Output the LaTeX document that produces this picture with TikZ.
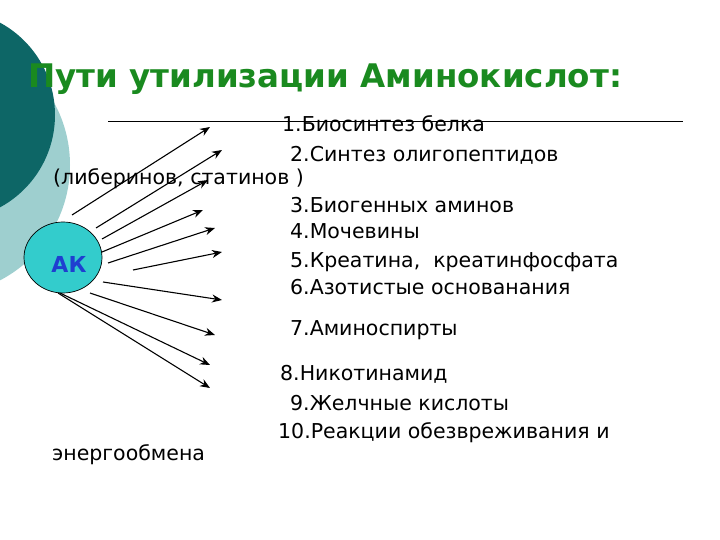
\documentclass[tikz,border=0pt]{standalone}
\usepackage{fontspec}
\setmainfont{DejaVu Sans}
\usetikzlibrary{arrows.meta,shapes.geometric}
\definecolor{darkteal}{HTML}{0D6666}
\definecolor{lightteal}{HTML}{9ECFCF}
\definecolor{titlegreen}{HTML}{1A8A1F}
\definecolor{akfill}{HTML}{33CCCC}
\definecolor{akblue}{HTML}{1F3FD0}
\begin{document}
\begin{tikzpicture}[x=1pt,y=-1pt,
  item/.style={anchor=base west, inner sep=0pt, font=\fontsize{20.5}{20.5}\selectfont},
  arr/.style={-{Stealth[length=10pt,width=8pt]}, line width=1.1pt}]
\useasboundingbox (0,0) rectangle (720,540);
\begin{scope}
  \clip (0,0) rectangle (720,540);
  \fill[lightteal] (-60,165) circle (130pt);
  \fill[darkteal] (-50,115) circle (105pt);
\end{scope}
% title
\node[anchor=base west, inner sep=0pt, text=titlegreen, font=\bfseries\fontsize{32.5}{32.5}\selectfont] (title) at (28,88) {Пути утилизации Аминокислот:};
% horizontal rule
\coordinate (hl) at (108,121);
\coordinate (hr) at (683,121);
\draw[line width=0.8pt] (hl) -- (hr);
% AK node
\node[draw, ellipse, fill=akfill, line width=0.7pt, minimum width=78pt, minimum height=71pt, inner sep=0pt] (ak) at (63,257.5) {};
\node[text=akblue, font=\bfseries\fontsize{22}{22}\selectfont, inner sep=0pt] (aklabel) at (69,264.5) {АК};
% items
\node[item] (t1) at (282,132) {1.Биосинтез белка};
\node[item] (t2) at (290,162) {2.Синтез олигопептидов};
\node[item] (t2b) at (53,185) {(либеринов, статинов )};
\node[item] (t3) at (290,212) {3.Биогенных аминов};
\node[item] (t4) at (290,239) {4.Мочевины};
\node[item] (t5) at (290,267) {5.Креатина,\ \ креатинфосфата};
\node[item] (t6) at (290,294) {6.Азотистые основанания};
\node[item] (t7) at (290,335) {7.Аминоспирты};
\node[item] (t8) at (280,380) {8.Никотинамид};
\node[item] (t9) at (290,410) {9.Желчные кислоты};
\node[item] (t10) at (278,438) {10.Реакции обезвреживания и};
\node[item] (t10b) at (52,460) {энергообмена};
% arrow ends
\coordinate (s1) at (72,215);   \coordinate (e1) at (210,127);
\coordinate (s2) at (96,228);   \coordinate (e2) at (222,150);
\coordinate (s3) at (102,239);  \coordinate (e3) at (208,180);
\coordinate (s4) at (102,252);  \coordinate (e4) at (203,210);
\coordinate (s5) at (108,263);  \coordinate (e5) at (215,228);
\coordinate (s6) at (133,270);  \coordinate (e6) at (222,252);
\coordinate (s7) at (103,282);  \coordinate (e7) at (222,300);
\coordinate (s8) at (90,293);   \coordinate (e8) at (215,335);
\coordinate (s9) at (60,293);   \coordinate (e9) at (210,365);
\coordinate (s10) at (58,293);  \coordinate (e10) at (210,388);
\foreach \i in {1,...,10} \draw[arr] (s\i) -- (e\i);
\end{tikzpicture}
\end{document}
